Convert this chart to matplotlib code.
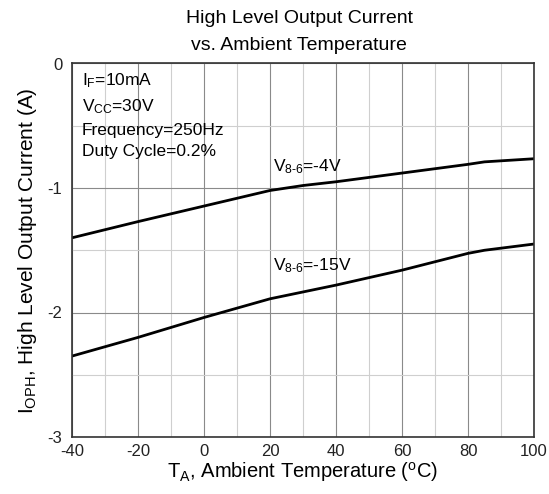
import matplotlib
matplotlib.use("Agg")
import matplotlib.pyplot as plt
from matplotlib.ticker import MultipleLocator

plt.rcParams['font.family'] = ['Liberation Sans', 'DejaVu Sans']
plt.rcParams['mathtext.fontset'] = 'custom'
plt.rcParams['mathtext.rm'] = 'Liberation Sans'
plt.rcParams['mathtext.it'] = 'Liberation Sans'

temp_4v = [-40, -20, 0, 20, 30, 40, 60, 80, 85, 100]
iout_4v = [-1.40, -1.27, -1.145, -1.02, -0.98, -0.95, -0.88, -0.81, -0.79, -0.765]
temp_15v = [-40, -20, 0, 20, 40, 60, 80, 85, 100]
iout_15v = [-2.35, -2.20, -2.04, -1.89, -1.78, -1.66, -1.525, -1.50, -1.45]
x_ticks = [-40, -20, 0, 20, 40, 60, 80, 100]
y_ticks = [0, -1, -2, -3]

fig = plt.figure(figsize=(5.49, 4.94), dpi=100)
ax = fig.add_axes([72/549, 1-437/494, (534-72)/549, (437-63.5)/494])

ax.set_xlim(-40, 100)
ax.set_ylim(-3, 0)
ax.xaxis.set_minor_locator(MultipleLocator(10))
ax.yaxis.set_minor_locator(MultipleLocator(0.5))
ax.set_xticks(x_ticks)
ax.set_yticks(y_ticks)
ax.set_xticklabels([str(v) for v in x_ticks])
ax.set_yticklabels([str(v) for v in y_ticks])
ax.grid(which='major', color='#8a8a8a', linewidth=0.8)
ax.grid(which='minor', color='#cfcfcf', linewidth=0.8)
ax.tick_params(which='both', length=0, labelsize=12, colors='#222222')
ax.tick_params(axis='x', pad=5)
ax.tick_params(axis='y', pad=7)
for s in ax.spines.values():
    s.set_color('#333333')
    s.set_linewidth(1.2)

ax.plot(temp_4v, iout_4v, color='black', linewidth=2)
ax.plot(temp_15v, iout_15v, color='black', linewidth=2)

ax.text(-37, -0.06, r'I$_{\mathregular{F}}$=10mA' + '\n' + r'V$_{\mathregular{CC}}$=30V' + '\n' + 'Frequency=250Hz\nDuty Cycle=0.2%',
        fontsize=12.5, va='top', ha='left', linespacing=1.55)
ax.text(21, -0.9, r'V$_{\mathregular{8\text{-}6}}$=-4V', fontsize=12.5, va='bottom', ha='left')
ax.text(21, -1.7, r'V$_{\mathregular{8\text{-}6}}$=-15V', fontsize=12.5, va='bottom', ha='left')

ax.set_xlabel(r'T$_{\mathregular{A}}$, Ambient Temperature ($^{\mathregular{o}}$C)', fontsize=14.5, labelpad=1)
ax.set_ylabel(r'I$_{\mathregular{OPH}}$, High Level Output Current (A)', fontsize=15, labelpad=6)
fig.text(0.545, 0.98, 'High Level Output Current\nvs. Ambient Temperature', ha='center', va='top',
         fontsize=14, linespacing=1.75)

fig.savefig('out.png', dpi=100)
